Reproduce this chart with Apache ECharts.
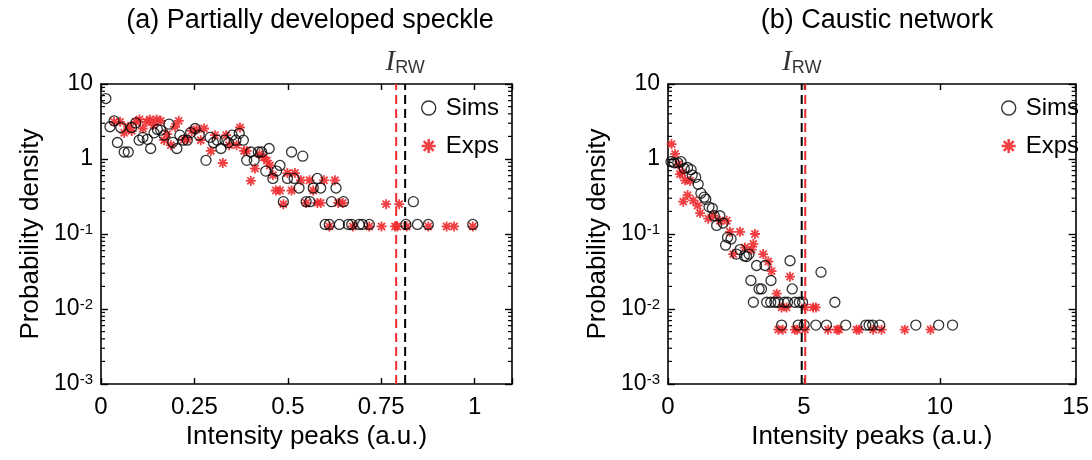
<!DOCTYPE html>
<html><head><meta charset="utf-8">
<script src="https://cdn.jsdelivr.net/npm/echarts@6/dist/echarts.min.js"></script>
<style>html,body{margin:0;padding:0;background:#fff}#c{width:1092px;height:460px}</style>
</head><body><div id="c"></div>
<script>
// ---------- data ----------
const titleA = '(a) Partially developed speckle';
const titleB = '(b) Caustic network';
const xName = 'Intensity peaks (a.u.)';
const yName = 'Probability density';
const seriesNames = ['Sims', 'Exps'];
const xTicksA = [0, 0.25, 0.5, 0.75, 1];
const xTicksB = [0, 5, 10, 15];
const yTicks = [0.001, 0.01, 0.1, 1, 10];
const yTickLabels = ['10{sup|-3}', '10{sup|-2}', '10{sup|-1}', '1', '10'];
const irwA = { sims: 0.814, exps: 0.79 };
const irwB = { sims: 4.92, exps: 5.05 };

const simsA = [
[0.013,6.4],[0.024,2.69],[0.035,3.23],[0.044,1.66],[0.053,2.63],[0.062,1.24],[0.073,1.24],[0.082,2.63],[0.093,3.03],[0.102,1.78],
[0.112,1.94],[0.124,1.83],[0.133,1.38],[0.142,2.23],[0.151,2.48],[0.160,2.42],[0.169,2.08],[0.182,2.92],[0.192,1.67],[0.203,1.38],
[0.211,2.08],[0.220,1.78],[0.231,1.78],[0.240,2.25],[0.252,2.55],[0.263,2.08],[0.281,0.96],[0.292,1.94],[0.301,1.65],[0.311,1.78],
[0.321,1.38],[0.332,1.78],[0.341,1.65],[0.351,2.08],[0.361,1.78],[0.370,2.2],[0.381,1.78],[0.390,0.96],[0.401,1.24],[0.410,0.96],
[0.421,1.24],[0.430,1.24],[0.441,0.69],[0.450,1.38],[0.460,0.55],[0.470,0.69],[0.479,0.82],[0.488,0.27],[0.499,0.55],[0.510,1.24],
[0.517,0.55],[0.530,0.41],[0.540,1.09],[0.549,0.27],[0.559,0.27],[0.568,0.41],[0.579,0.55],[0.588,0.41],[0.617,0.27],[0.629,0.41],
[0.649,0.27],[0.836,0.27],
[0.600,0.134],[0.611,0.134],[0.638,0.134],[0.662,0.134],[0.671,0.134],[0.691,0.134],[0.700,0.134],[0.718,0.134],[0.816,0.134],
[0.847,0.134],[0.876,0.134],[0.995,0.134]
];
const expsA = [
[0.035,3.13],[0.051,3.13],[0.062,2.23],[0.073,2.69],[0.082,2.37],[0.093,3.13],[0.103,3.37],[0.112,2.55],[0.122,3.13],[0.131,3.37],
[0.140,2.83],[0.149,3.37],[0.160,3.23],[0.169,1.78],[0.177,2.14],[0.187,1.53],[0.198,2.69],[0.208,3.23],[0.222,1.82],[0.231,1.82],
[0.243,2.37],[0.256,2.48],[0.267,1.78],[0.276,2.55],[0.294,1.28],[0.305,2.08],[0.326,0.885],[0.335,2.08],[0.343,1.53],[0.363,1.53],
[0.372,2.63],[0.383,1.28],[0.390,1.28],[0.401,0.51],[0.412,0.745],[0.424,1.16],[0.436,1.05],[0.444,0.95],[0.452,0.82],[0.460,0.61],
[0.468,0.38],[0.479,0.38],[0.488,0.25],[0.499,0.65],[0.510,0.38],[0.519,0.65],[0.535,0.52],[0.558,0.52],[0.549,0.26],[0.568,0.38],
[0.579,0.26],[0.588,0.26],[0.597,0.52],[0.626,0.52],[0.635,0.26],[0.647,0.26],[0.763,0.25],[0.798,0.25],
[0.611,0.126],[0.674,0.126],[0.718,0.126],[0.751,0.126],[0.787,0.126],[0.793,0.126],[0.818,0.126],[0.876,0.126],[0.925,0.126],
[0.945,0.126],[0.995,0.126]
];
const simsB = [
[0.11,0.92],[0.23,0.89],[0.36,0.89],[0.48,0.92],[0.60,0.75],[0.72,0.77],[0.85,0.72],[0.89,0.61],[1.02,0.57],[1.11,0.46],
[1.21,0.35],[1.33,0.31],[1.39,0.29],[1.51,0.23],[1.63,0.22],[1.70,0.175],[1.79,0.13],[1.91,0.175],[2.03,0.14],[2.12,0.071],
[2.19,0.09],[2.32,0.086],[2.52,0.054],[2.65,0.062],[2.81,0.051],[2.89,0.05],[2.98,0.054],[3.05,0.024],[3.26,0.038],[3.35,0.0185],
[3.44,0.0185],[3.57,0.038],[3.79,0.024],[4.49,0.044],[4.57,0.0185],[5.63,0.031],
[3.14,0.0123],[3.63,0.0123],[3.78,0.0123],[3.93,0.0123],[4.05,0.0123],[4.28,0.0123],[4.40,0.0123],[4.67,0.0123],[4.83,0.0123],
[4.95,0.0123],[6.14,0.0123],
[4.18,0.0061],[4.79,0.0061],[5.01,0.0061],[5.44,0.0061],[5.83,0.0061],[6.54,0.0061],[7.28,0.0061],[7.40,0.0061],[7.53,0.0061],
[7.79,0.0061],[9.12,0.0061],[9.96,0.0061],[10.47,0.0061]
];
const expsB = [
[0.13,1.58],[0.26,1.17],[0.38,0.85],[0.44,0.63],[0.52,0.66],[0.63,0.52],[0.81,0.51],[0.56,0.27],[0.72,0.33],[0.93,0.28],
[1.09,0.24],[1.18,0.19],[1.48,0.16],[1.67,0.175],[1.91,0.15],[2.16,0.15],[2.28,0.107],[2.65,0.107],[2.40,0.054],[2.83,0.066],
[3.08,0.062],[3.14,0.074],[3.20,0.1],[3.50,0.054],[3.69,0.043],[3.81,0.032],[4.49,0.027],[4.00,0.016],[4.18,0.0105],[4.36,0.0105],
[5.04,0.0105],[5.34,0.0105],[5.44,0.0105],
[4.06,0.0053],[4.22,0.0053],[4.67,0.0053],[4.75,0.0053],[5.04,0.0053],[5.89,0.0053],[6.22,0.0053],[6.29,0.0053],[6.94,0.0053],
[7.03,0.0053],[7.55,0.0053],[7.86,0.0053],[8.71,0.0053],[9.66,0.0053]
];

// ---------- styling ----------
const FONT = "'Liberation Sans', Arial, sans-serif";
const RED = '#ee2b2f';
const BLACK = '#000';
const STAR = 'path://M5,0.9L5,-0.9L-5,-0.9L-5,0.9ZM-0.9,5L0.9,5L0.9,-5L-0.9,-5ZM2.9,4.18L4.18,2.9L-2.9,-4.18L-4.18,-2.9ZM-4.18,2.9L-2.9,4.18L4.18,-2.9L2.9,-4.18Z';

const yMin = yTicks[0], yMax = yTicks[yTicks.length - 1];
const minorVals = [];
for (let e = Math.log10(yMin); e < Math.log10(yMax); e++) {
  for (let k = 2; k <= 9; k++) minorVals.push(k * Math.pow(10, e));
}

const grids = [
  { left: 101, top: 84, width: 411, height: 300 },
  { left: 668, top: 84, width: 408, height: 300 }
];
const xRanges = [[0, 1.1, 0.25], [0, 15, 5]];
const xTickSets = [xTicksA, xTicksB];

function isTick(v, set) { return set.some(t => Math.abs(t - v) < 1e-9); }

const xAxes = [], yAxes = [];
[0, 1].forEach(g => {
  const [mn, mx, iv] = xRanges[g];
  const line = { show: true, onZero: false, lineStyle: { color: BLACK, width: 1.6 } };
  xAxes.push({
    gridIndex: g, type: 'value', min: mn, max: mx, interval: iv, position: 'bottom',
    axisLine: line, splitLine: { show: false },
    axisTick: { show: true, inside: true, length: 6, lineStyle: { color: BLACK, width: 1.4 } },
    axisLabel: { color: BLACK, fontFamily: FONT, fontSize: 24, margin: 11,
      formatter: v => isTick(v, xTickSets[g]) ? String(v) : '' },
    name: xName, nameLocation: 'middle', nameGap: 40,
    nameTextStyle: { color: BLACK, fontFamily: FONT, fontSize: 26 }
  });
  xAxes.push({
    gridIndex: g, type: 'value', min: mn, max: mx, interval: iv, position: 'top',
    axisLine: line, splitLine: { show: false },
    axisTick: { show: true, inside: true, length: 6, lineStyle: { color: BLACK, width: 1.4 } },
    axisLabel: { show: false }
  });
  yAxes.push({
    gridIndex: g, type: 'log', logBase: 10, min: yMin, max: yMax, position: 'left',
    axisLine: line, splitLine: { show: false }, minorTick: { show: false },
    axisTick: { show: true, inside: true, length: 7, lineStyle: { color: BLACK, width: 1.4 } },
    axisLabel: { color: BLACK, fontFamily: FONT, fontSize: 23, margin: 8,
      formatter: v => {
        const i = yTicks.findIndex(t => Math.abs(Math.log10(t) - Math.log10(v)) < 1e-6);
        return i >= 0 ? yTickLabels[i] : '';
      },
      rich: { sup: { fontFamily: FONT, fontSize: 15, verticalAlign: 'top', lineHeight: 15, color: BLACK } }
    },
    name: yName, nameLocation: 'middle', nameGap: 57,
    nameTextStyle: { color: BLACK, fontFamily: FONT, fontSize: 26 }
  });
  yAxes.push({
    gridIndex: g, type: 'log', logBase: 10, min: yMin, max: yMax, position: 'right',
    axisLine: line, splitLine: { show: false }, minorTick: { show: false },
    axisTick: { show: true, inside: true, length: 7, lineStyle: { color: BLACK, width: 1.4 } },
    axisLabel: { show: false }
  });
});

const series = [];
const sets = [[simsA, expsA, irwA], [simsB, expsB, irwB]];
[0, 1].forEach(g => {
  const [sims, exps, irw] = sets[g];
  const xi = g * 2, yi = g * 2;
  const [mn, mx] = xRanges[g];
  series.push({
    type: 'custom', xAxisIndex: xi, yAxisIndex: yi, silent: true, clip: false,
    data: minorVals.map(v => [mn, v]),
    renderItem: (params, api) => {
      const v = api.value(1);
      const p = api.coord([mn, v]), q = api.coord([mx, v]);
      const st = { stroke: BLACK, lineWidth: 1.2 };
      return { type: 'group', children: [
        { type: 'line', shape: { x1: p[0], y1: p[1], x2: p[0] + 4, y2: p[1] }, style: st },
        { type: 'line', shape: { x1: q[0], y1: q[1], x2: q[0] - 4, y2: q[1] }, style: st }
      ]};
    }
  });
  series.push({
    name: 'Exps', type: 'scatter', xAxisIndex: xi, yAxisIndex: yi, data: exps,
    symbol: STAR, symbolSize: 10, itemStyle: { color: RED, opacity: 0.9 }, z: 3
  });
  series.push({
    name: 'Sims', type: 'scatter', xAxisIndex: xi, yAxisIndex: yi, data: sims,
    symbol: 'circle', symbolSize: 10,
    itemStyle: { color: 'rgba(0,0,0,0)', borderColor: BLACK, borderWidth: 1.3 }, z: 4
  });
  [['sims', BLACK], ['exps', RED]].forEach(([k, c]) => {
    series.push({
      type: 'line', xAxisIndex: xi, yAxisIndex: yi, silent: true, showSymbol: false,
      data: [[irw[k], yMin], [irw[k], yMax]],
      lineStyle: { color: c, width: 2, type: [9, 5] }, z: 5
    });
  });
  series.push({
    type: 'scatter', xAxisIndex: xi, yAxisIndex: yi, silent: true, symbolSize: 0,
    data: [[irw.sims, yMax]],
    label: { show: true, position: 'top', distance: 7, formatter: '{i|I}{s|RW}',
      rich: {
        i: { fontFamily: "'Liberation Serif', 'DejaVu Serif', serif", fontStyle: 'italic', fontSize: 29, lineHeight: 30, color: BLACK },
        s: { fontFamily: FONT, fontSize: 18, lineHeight: 18, verticalAlign: 'bottom', color: BLACK }
      } }
  });
});

const legendBase = {
  orient: 'vertical', selectedMode: false, padding: 0, itemWidth: 14, itemHeight: 14, itemGap: 14,
  textStyle: { color: BLACK, fontFamily: FONT, fontSize: 24, padding: [0, 0, 0, 5] },
  data: [
    { name: 'Sims', icon: 'circle', itemStyle: { color: 'rgba(0,0,0,0)', borderColor: BLACK, borderWidth: 1.4 } },
    { name: 'Exps', icon: STAR, itemStyle: { color: RED } }
  ]
};

const option = {
  animation: false,
  backgroundColor: '#fff',
  title: [
    { text: titleA, left: 305, top: 2, textAlign: 'center', textStyle: { color: BLACK, fontFamily: FONT, fontSize: 27, fontWeight: 'normal' } },
    { text: titleB, left: 872, top: 2, textAlign: 'center', textStyle: { color: BLACK, fontFamily: FONT, fontSize: 27, fontWeight: 'normal' } }
  ],
  legend: [
    Object.assign({}, legendBase, { left: 421, top: 96 }),
    Object.assign({}, legendBase, { left: 1001, top: 96 })
  ],
  grid: grids,
  xAxis: xAxes,
  yAxis: yAxes,
  series: series
};
const chart = echarts.init(document.getElementById('c'), null, { renderer: 'canvas' });
chart.setOption(option);
</script></body></html>
